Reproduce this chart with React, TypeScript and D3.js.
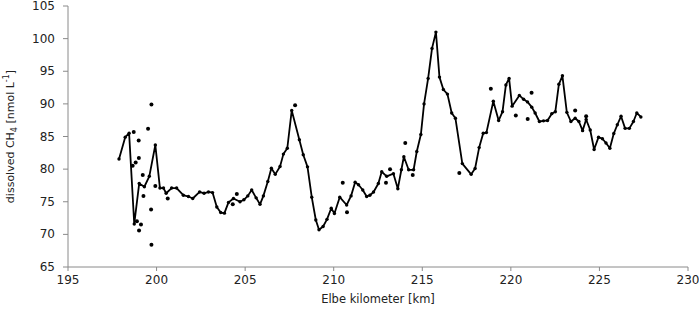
import React from 'react';
import * as d3 from 'd3';

// connected series (Elbe km, nmol/L)
const lineKm = [
  197.88, 198.23, 198.45, 198.74, 199.02, 199.31, 199.59, 199.93, 200.19, 200.39,
  200.54, 200.85, 201.13, 201.51, 201.8, 202.04, 202.43, 202.68, 202.93, 203.16,
  203.4, 203.62, 203.83, 204.06, 204.34, 204.71, 204.93, 205.15, 205.37, 205.62,
  205.84, 206.03, 206.28, 206.48, 206.7, 206.97, 207.16, 207.38, 207.63, 208.06,
  208.28, 208.52, 208.76, 208.99, 209.17, 209.4, 209.62, 209.86, 210.04, 210.34,
  210.73, 210.98, 211.21, 211.4, 211.64, 211.86, 212.04, 212.25, 212.52, 212.71,
  212.99, 213.37, 213.62, 213.82, 213.96, 214.23, 214.51, 214.69, 214.92, 215.1,
  215.33, 215.55, 215.77, 215.97, 216.19, 216.42, 216.66, 216.87, 217.26, 217.76,
  217.98, 218.21, 218.44, 218.62, 219.01, 219.31, 219.53, 219.72, 219.9, 220.07,
  220.48, 220.72, 220.94, 221.18, 221.37, 221.61, 221.84, 222.07, 222.31, 222.51,
  222.71, 222.91, 223.16, 223.39, 223.63, 223.84, 224.05, 224.25, 224.48, 224.7,
  224.95, 225.17, 225.37, 225.59, 225.81, 226.01, 226.22, 226.45, 226.69, 226.92,
  227.11, 227.34,
];
const lineCH4 = [
  81.55, 84.9, 85.5, 71.6, 77.8, 77.3, 78.9, 83.7, 77.1, 77.1,
  76.3, 77.1, 77.1, 76.0, 75.8, 75.5, 76.5, 76.3, 76.5, 76.4,
  74.2, 73.35, 73.25, 74.9, 75.5, 75.0, 75.3, 75.9, 76.8, 75.6,
  74.6, 75.9, 78.1, 80.15, 79.2, 80.4, 82.3, 83.2, 89.0, 84.5,
  82.2, 80.35, 75.7, 72.2, 70.7, 71.2, 72.3, 74.0, 73.2, 75.7,
  74.5, 75.9, 78.0, 77.6, 76.8, 75.8, 76.0, 76.5, 77.8, 79.6,
  78.9, 79.3, 77.0, 79.9, 81.9, 79.9, 79.9, 82.7, 85.3, 90.0,
  93.9, 98.5, 101.0, 94.1, 92.2, 91.5, 88.6, 87.8, 80.85, 79.2,
  80.1, 83.3, 85.5, 85.6, 90.4, 87.45, 88.8, 92.9, 93.9, 89.65,
  91.3, 90.7, 90.3, 89.5, 88.6, 87.3, 87.4, 87.45, 88.5, 88.8,
  93.0, 94.3, 88.7, 87.3, 87.8, 87.3, 85.9, 87.6, 86.0, 83.0,
  84.9, 84.65, 84.0, 83.2, 85.45, 86.8, 88.1, 86.25, 86.25, 87.3,
  88.6, 88.0,
];

// single measurements not on the line
const dotKm = [
  198.71, 198.65, 198.82, 199.0, 198.99, 199.52, 199.71, 198.89, 199.12, 199.01,
  199.71, 199.69, 199.22, 199.26, 199.93, 200.63, 204.3, 204.53, 207.82, 210.51,
  210.75, 212.95, 213.18, 214.04, 214.46, 217.09, 218.87, 220.28, 220.95, 221.17,
  223.63, 224.25,
];
const dotCH4 = [
  85.7, 80.5, 81.0, 81.7, 84.4, 86.2, 89.9, 72.0, 71.5, 70.6,
  68.4, 73.8, 79.1, 75.9, 77.4, 75.5, 74.6, 76.2, 89.8, 77.9,
  73.4, 77.9, 80.0, 84.0, 79.1, 79.4, 92.3, 88.2, 87.7, 91.7,
  89.0, 88.1,
];

const xTicks = [195, 200, 205, 210, 215, 220, 225, 230];
const yTicks = [65, 70, 75, 80, 85, 90, 95, 100, 105];

const W = 699;
const H = 313;
const margin = { top: 6, right: 11, bottom: 46, left: 68 };
const font = "'DejaVu Sans', sans-serif";
const axisColor = '#8a8a8a';

export default function App() {
  const x = d3.scaleLinear().domain([195, 230]).range([margin.left, W - margin.right]);
  const y = d3.scaleLinear().domain([65, 105]).range([H - margin.bottom, margin.top]);

  const pts: [number, number][] = lineKm.map((k, i) => [k, lineCH4[i]]);
  const path = d3.line<[number, number]>()
    .x(d => x(d[0]))
    .y(d => y(d[1]))(pts) || '';

  const y0 = y(65);

  return (
    <svg width={W} height={H} style={{ position: 'absolute', left: 0, top: 0, background: '#fff' }}
      fontFamily={font}>
      {/* axes */}
      <line x1={x(195)} x2={x(230)} y1={y0} y2={y0} stroke={axisColor} strokeWidth={1} />
      <line x1={x(195)} x2={x(195)} y1={y(105)} y2={y0} stroke={axisColor} strokeWidth={1} />
      {xTicks.map(t => (
        <g key={'x' + t}>
          <line x1={x(t)} x2={x(t)} y1={y0} y2={y0 + 4} stroke={axisColor} />
          <text x={x(t)} y={y0 + 17} fontSize={12} textAnchor="middle" fill="#222">{t}</text>
        </g>
      ))}
      {yTicks.map(t => (
        <g key={'y' + t}>
          <line x1={x(195) - 5} x2={x(195)} y1={y(t)} y2={y(t)} stroke={axisColor} />
          <text x={55} y={y(t)} fontSize={12} textAnchor="end" dominantBaseline="central" fill="#222">{t}</text>
        </g>
      ))}

      {/* titles */}
      <text x={(x(195) + x(230)) / 2} y={303} fontSize={11.5} textAnchor="middle" fill="#222">
        Elbe kilometer [km]
      </text>
      <text transform={`translate(14,${(y(65) + y(105)) / 2}) rotate(-90)`} fontSize={11}
        textAnchor="middle" fill="#222">
        dissolved CH<tspan fontSize={8} dy={3}>4</tspan>
        <tspan dy={-3}> [nmol L</tspan>
        <tspan fontSize={8} dy={-5}>-1</tspan>
        <tspan dy={5}>]</tspan>
      </text>

      {/* data */}
      <path d={path} fill="none" stroke="#000" strokeWidth={1.8} strokeLinejoin="round" />
      {pts.map((d, i) => (
        <circle key={'l' + i} cx={x(d[0])} cy={y(d[1])} r={1.7} fill="#000" />
      ))}
      {dotKm.map((k, i) => (
        <circle key={'d' + i} cx={x(k)} cy={y(dotCH4[i])} r={2} fill="#000" />
      ))}
    </svg>
  );
}
